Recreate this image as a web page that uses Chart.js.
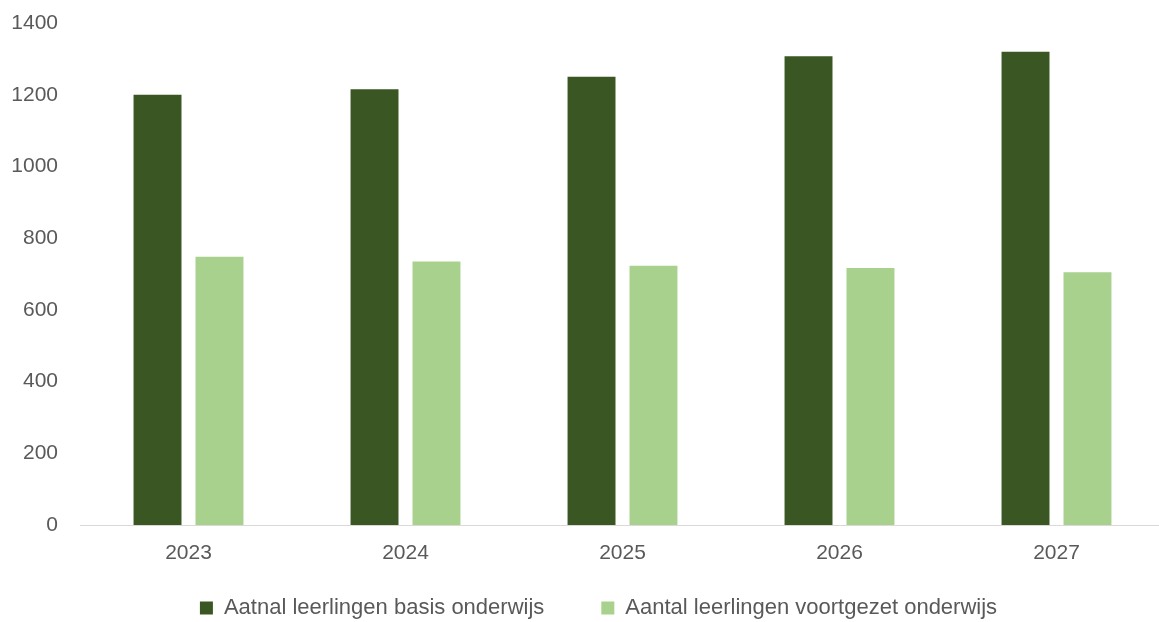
<!DOCTYPE html>
<html>
<head>
<meta charset="utf-8">
<script src="https://cdn.jsdelivr.net/npm/chart.js@4"></script>
<style>
  body { margin: 0; overflow: hidden; background: #fff; }
  #wrap { width: 1167px; height: 622px; }
</style>
</head>
<body>
<div id="wrap"><canvas id="leerlingenChart"></canvas></div>
<script>
const years = ['2023', '2024', '2025', '2026', '2027'];
const basisOnderwijs = [1200, 1215, 1250, 1307, 1320];
const voortgezetOnderwijs = [748, 735, 723, 717, 705];
const yTicks = [0, 200, 400, 600, 800, 1000, 1200, 1400];

const textColor = '#595959';
const fontFamily = '"Liberation Sans", Arial, sans-serif';
const legendPad = 57;
const legendFont = 22;

// fixed legend height, and move it to where the original has it
const placeLegend = {
  id: 'placeLegend',
  beforeLayout(chart) {
    const lg = chart.legend;
    if (lg && !lg._fitWrapped) {
      const origFit = lg.fit;
      lg.fit = function () {
        origFit.call(this);
        this.height = 37;
      };
      lg._fitWrapped = true;
    }
  },
  afterLayout(chart) {
    const lg = chart.legend;
    const top = 608 - legendPad - legendFont / 2;
    lg.top = top;
    lg.bottom = chart.height;
    lg.height = lg.bottom - top;
    lg.left += 16;
    lg.right += 16;
  }
};

const chartCanvas = document.getElementById('leerlingenChart');

new Chart(chartCanvas, {
  type: 'bar',
  data: {
    labels: years,
    datasets: [{
      label: 'Aatnal leerlingen basis onderwijs',
      data: basisOnderwijs,
      backgroundColor: '#3a5723'
    }, {
      label: 'Aantal leerlingen voortgezet onderwijs',
      data: voortgezetOnderwijs,
      backgroundColor: '#a9d18e'
    }]
  },
  options: {
    responsive: true,
    maintainAspectRatio: false,
    animation: false,
    categoryPercentage: 0.571,
    barPercentage: 0.774,
    layout: { padding: { top: 23, right: 2, bottom: 0, left: 0 } },
    plugins: {
      tooltip: { enabled: false },
      legend: {
        position: 'bottom',
        labels: {
          color: textColor,
          font: { family: fontFamily, size: legendFont },
          boxWidth: 13,
          boxHeight: 13,
          padding: legendPad
        }
      }
    },
    scales: {
      x: {
        afterFit(scale) { scale.height = 60; },
        grid: { display: false, drawTicks: false },
        border: { display: true, color: '#d9d9d9', width: 1 },
        ticks: {
          color: textColor,
          font: { family: fontFamily, size: 21 },
          padding: 16
        }
      },
      y: {
        min: 0,
        max: 1400,
        afterFit(scale) {
          scale.width = 80;
          scale.paddingTop = 0;
        },
        afterBuildTicks(scale) { scale.ticks = yTicks.map(v => ({ value: v })); },
        grid: { display: false, drawTicks: false },
        border: { display: false },
        ticks: {
          color: textColor,
          font: { family: fontFamily, size: 21 },
          padding: 22,
          callback: v => String(v)
        }
      }
    }
  },
  plugins: [placeLegend]
});
</script>
</body>
</html>
